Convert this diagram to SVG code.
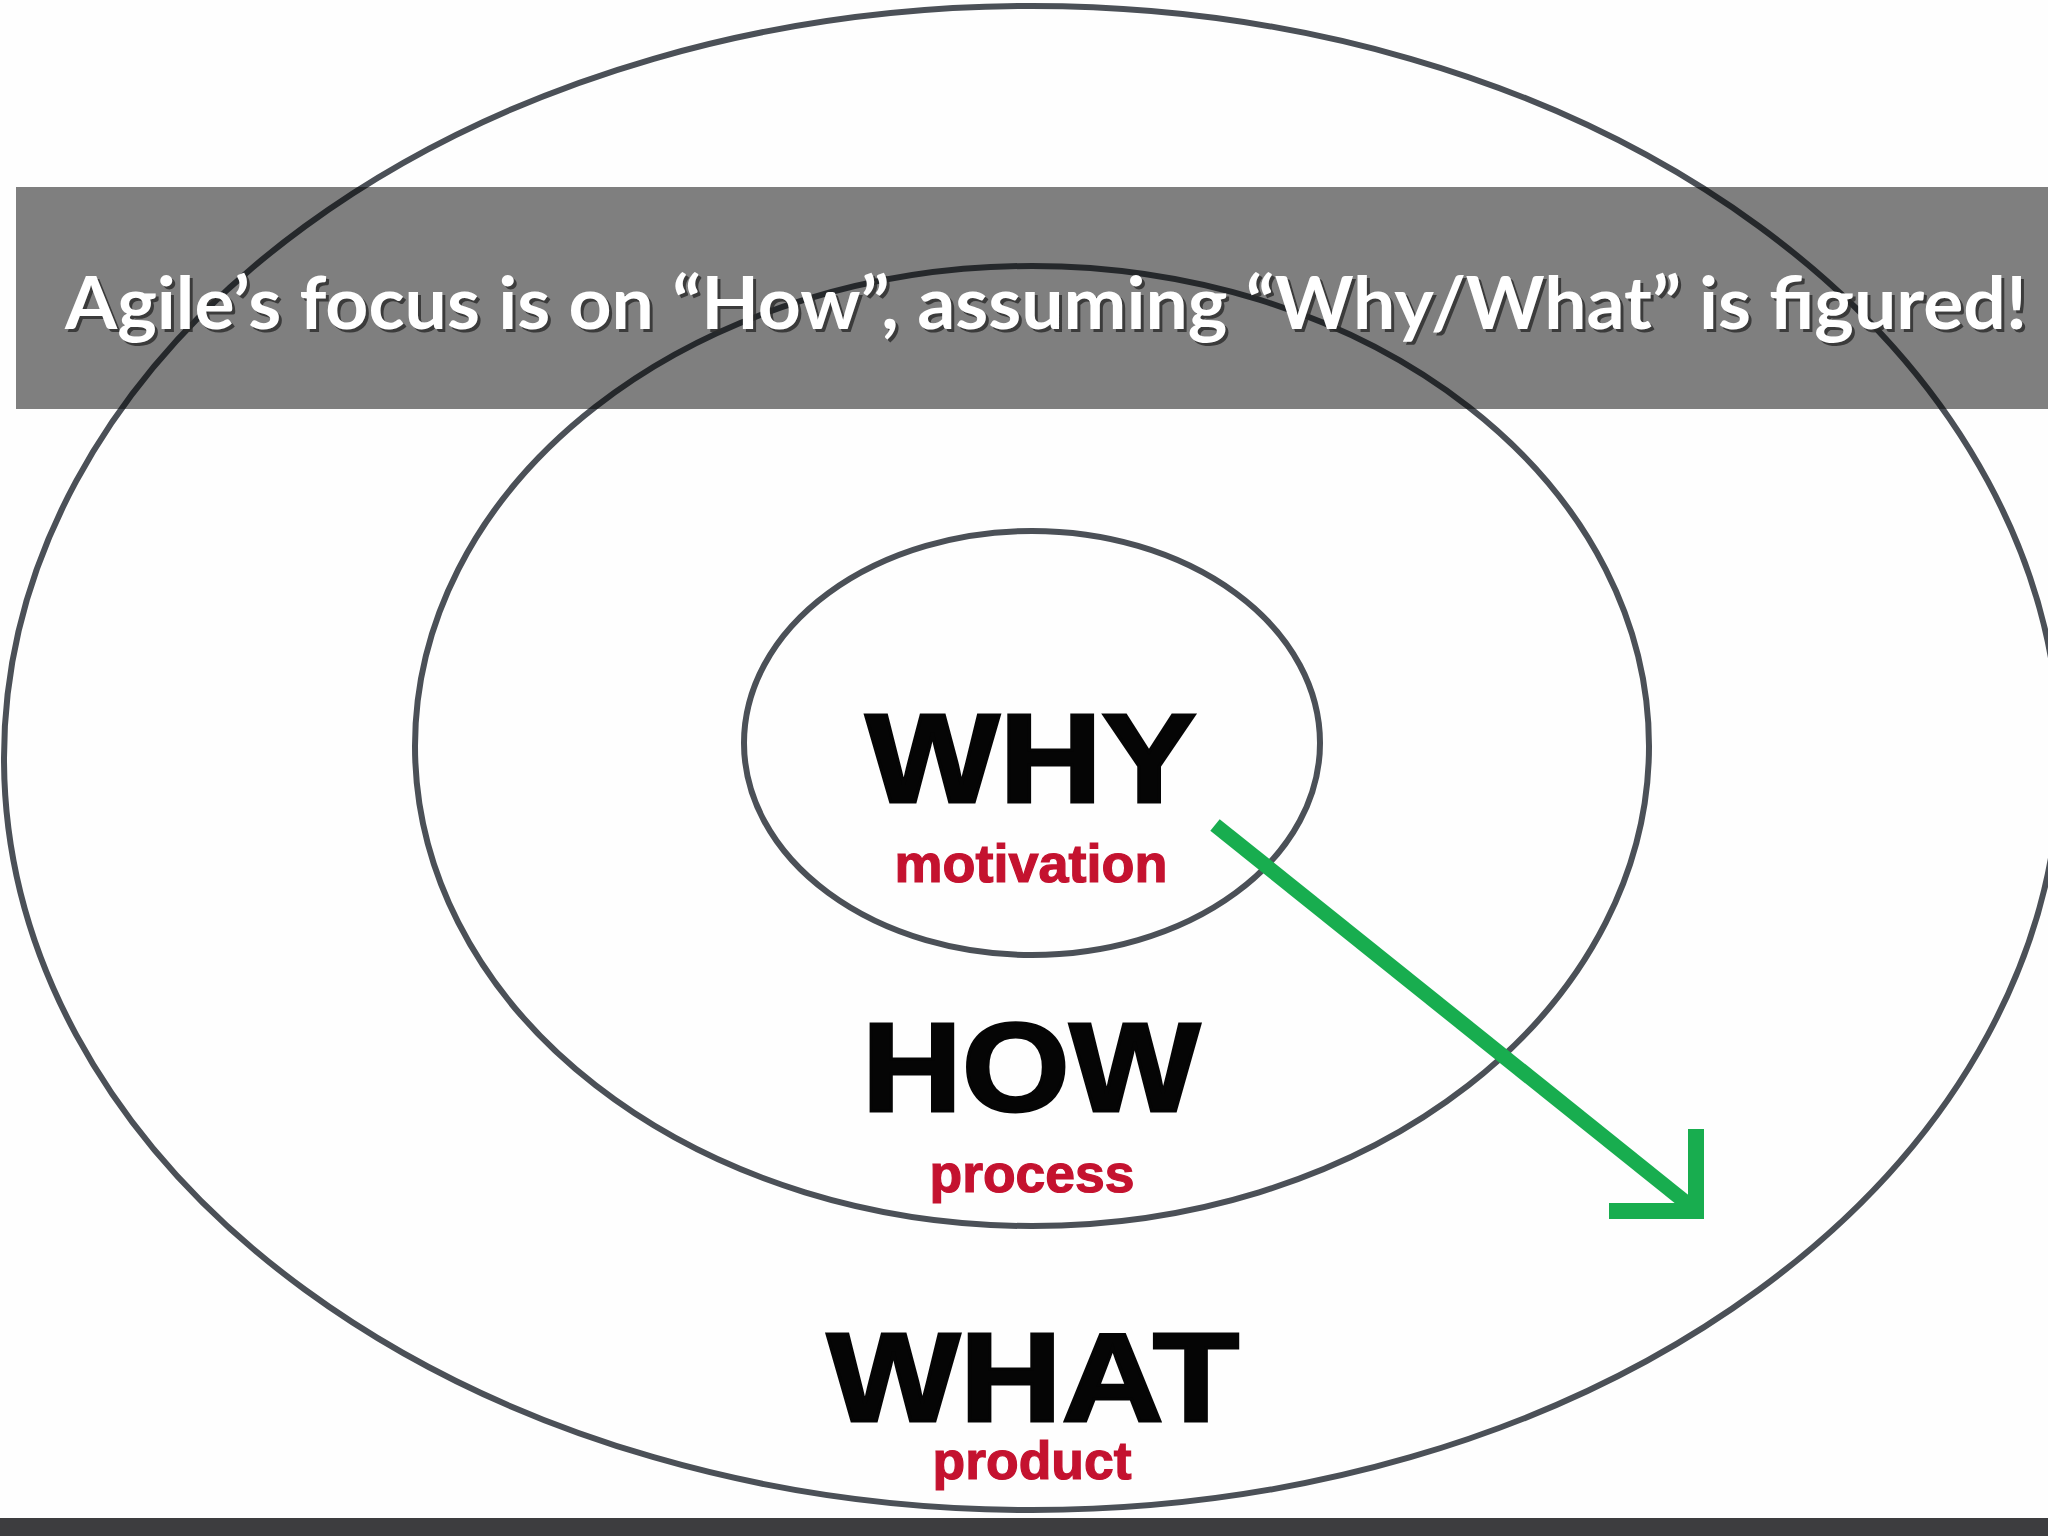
<svg xmlns="http://www.w3.org/2000/svg" width="2048" height="1536" viewBox="0 0 2048 1536">
  <style>
    .ring { fill: none; stroke: #4b5057; stroke-width: 6; }
    .big { font-family: "Liberation Sans", Arial, sans-serif; font-weight: bold; font-size: 126px; fill: #050505; stroke: #050505; stroke-width: 3; text-anchor: middle; }
    .sub { font-family: "Liberation Sans", Arial, sans-serif; font-weight: bold; font-size: 53px; fill: #c4122f; stroke: #c4122f; stroke-width: 1.2; text-anchor: middle; }
    .title { font-family: Lato, "Open Sans", sans-serif; font-weight: bold; font-size: 72px; }
    .arrow { fill: none; stroke: #18ad4f; }
  </style>
  <rect x="0" y="0" width="2048" height="1536" fill="#fefefe"/>

  <g id="what">
    <ellipse class="ring" cx="1032" cy="758" rx="1028" ry="752"/>
    <text class="big" x="1033" y="1421" textLength="412" lengthAdjust="spacingAndGlyphs">WHAT</text>
    <text class="sub" x="1032" y="1479" textLength="199" lengthAdjust="spacingAndGlyphs">product</text>
  </g>

  <g id="how">
    <ellipse class="ring" cx="1032" cy="746" rx="617" ry="480"/>
    <text class="big" x="1031" y="1111" textLength="338" lengthAdjust="spacingAndGlyphs">HOW</text>
    <text class="sub" x="1032" y="1192" textLength="205" lengthAdjust="spacingAndGlyphs">process</text>
  </g>

  <g id="why">
    <ellipse class="ring" cx="1032" cy="743" rx="288" ry="212"/>
    <text class="big" x="1031" y="802" textLength="331" lengthAdjust="spacingAndGlyphs">WHY</text>
    <text class="sub" x="1031" y="882" textLength="273" lengthAdjust="spacingAndGlyphs">motivation</text>
  </g>

  <g id="connectors">
    <line class="arrow" x1="1215" y1="825" x2="1694" y2="1209" stroke-width="15"/>
    <polyline class="arrow" points="1609,1211 1696,1211 1696,1129" stroke-width="16" stroke-linejoin="miter"/>
  </g>

  <g id="banner">
    <rect x="16" y="187" width="2032" height="222" fill="#000000" fill-opacity="0.5"/>
    <text class="title" x="68" y="332" fill="#2a2a2a" fill-opacity="0.8" textLength="1962" lengthAdjust="spacingAndGlyphs">Agile’s focus is on “How”, assuming “Why/What” is figured!</text>
    <text class="title" x="65" y="329" fill="#ffffff" textLength="1962" lengthAdjust="spacingAndGlyphs">Agile’s focus is on “How”, assuming “Why/What” is figured!</text>
  </g>

  <rect x="0" y="1518" width="2048" height="18" fill="#3d3d3f"/>
</svg>
